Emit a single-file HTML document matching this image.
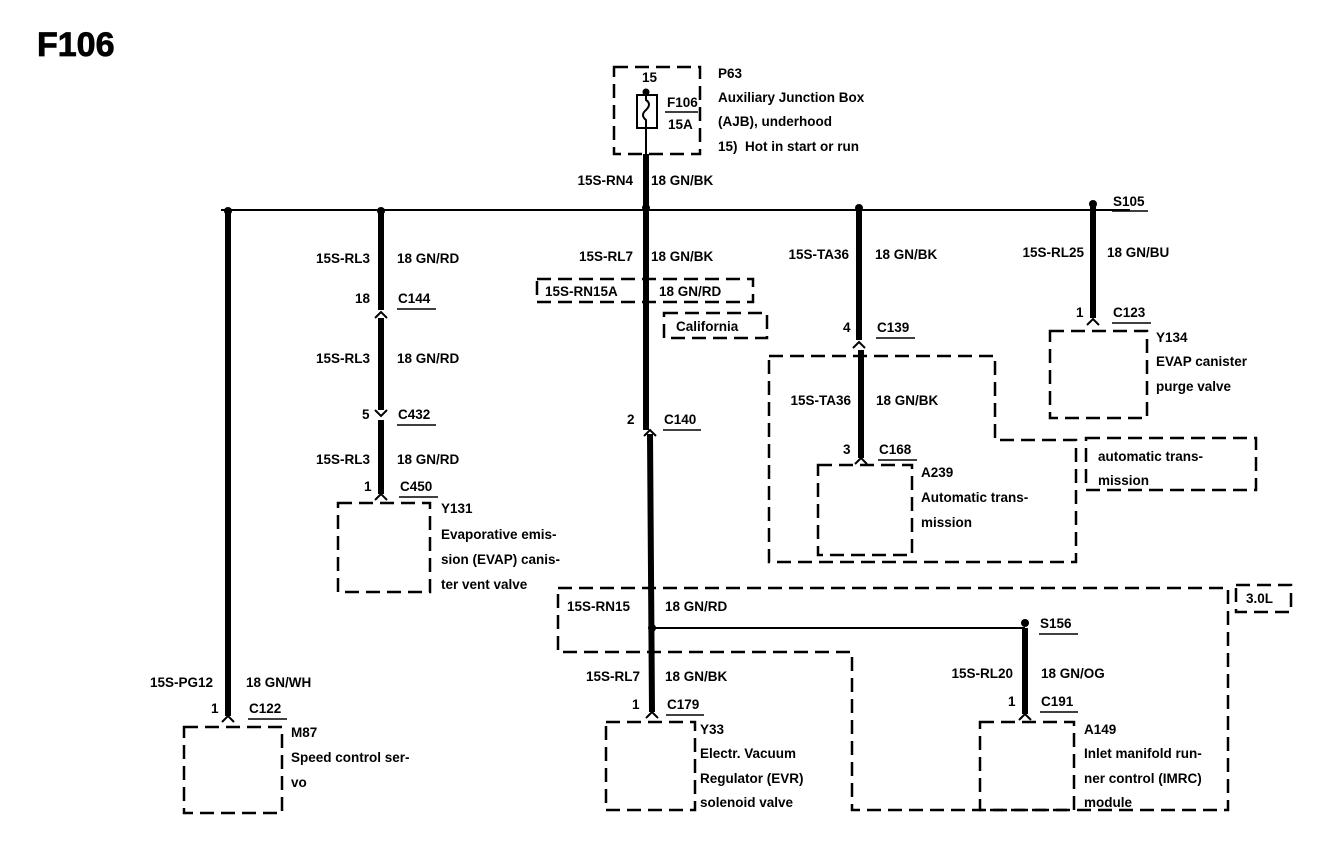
<!DOCTYPE html>
<html><head><meta charset="utf-8"><style>
html,body{margin:0;padding:0;background:#fff}
svg{display:block}
text{font-family:"Liberation Sans",Arial,sans-serif;font-weight:bold;font-size:13.5px;fill:#000}
.r{text-anchor:end}
.d{fill:none;stroke:#000;stroke-width:2.5;stroke-dasharray:14 7}
.w{stroke:#000;stroke-width:6}
.t{stroke:#000;stroke-width:2}
.u{stroke:#000;stroke-width:1.5}
.a{fill:none;stroke:#000;stroke-width:2}
</style></head><body>
<svg width="1344" height="842" viewBox="0 0 1344 842" xmlns="http://www.w3.org/2000/svg">
<text x="37" y="56" style="font-size:34px;stroke:#000;stroke-width:0.8">F106</text>

<!-- fuse box -->
<rect x="614" y="67" width="86" height="87" class="d"/>
<rect x="637" y="95" width="20" height="33" fill="none" stroke="#000" stroke-width="2"/>
<path d="M646 92 v8 q6 4 0 10 q-6 5 0 10 v8" fill="none" stroke="#000" stroke-width="2"/>
<circle cx="646" cy="92" r="3.5"/>
<line x1="646" y1="128" x2="646" y2="155" class="t"/>
<text x="642" y="82">15</text>
<text x="667" y="107">F106</text>
<line x1="665" y1="112" x2="698" y2="112" class="u"/>
<text x="668" y="129">15A</text>
<text x="718" y="78">P63</text>
<text x="718" y="102">Auxiliary Junction Box</text>
<text x="718" y="126">(AJB), underhood</text>
<text x="718" y="151">15)&#160; Hot in start or run</text>
<text x="633" y="185" class="r">15S-RN4</text>
<text x="651" y="185">18 GN/BK</text>

<!-- bus -->
<line x1="221" y1="210" x2="1130" y2="210" class="t"/>
<circle cx="228" cy="211" r="4"/><circle cx="381" cy="211" r="4"/><circle cx="646" cy="208" r="4"/><circle cx="859" cy="208" r="4"/><circle cx="1093" cy="204" r="4"/>
<text x="1113" y="206">S105</text><line x1="1112" y1="211" x2="1148" y2="211" class="u"/>

<!-- main wire -->
<line x1="646" y1="154" x2="646" y2="430" class="w"/>
<line x1="650" y1="434" x2="652" y2="712" class="w"/>
<path d="M644 436 l6 -6 l6 6" class="a"/>
<text x="633" y="261" class="r">15S-RL7</text>
<text x="651" y="261">18 GN/BK</text>
<rect x="537" y="279" width="216" height="23" class="d"/>
<text x="545" y="296">15S-RN15A</text>
<text x="659" y="296">18 GN/RD</text>
<rect x="664" y="313" width="103" height="25" class="d"/>
<text x="676" y="331">California</text>
<text x="627" y="424">2</text>
<text x="664" y="424">C140</text><line x1="663" y1="430" x2="701" y2="430" class="u"/>

<!-- 3.0L region -->
<path d="M558 588 H1228 V810 H852 V652 H558 Z" class="d"/>
<rect x="1236" y="585" width="55" height="27" class="d"/>
<text x="1246" y="603">3.0L</text>
<text x="567" y="611">15S-RN15</text>
<text x="665" y="611">18 GN/RD</text>
<circle cx="652" cy="628" r="4"/>
<line x1="652" y1="628" x2="1025" y2="628" class="t"/>
<circle cx="1025" cy="623" r="4"/>
<text x="1040" y="628">S156</text><line x1="1039" y1="634" x2="1078" y2="634" class="u"/>
<text x="640" y="681" class="r">15S-RL7</text>
<text x="665" y="681">18 GN/BK</text>
<text x="632" y="709">1</text>
<text x="667" y="709">C179</text><line x1="666" y1="715" x2="704" y2="715" class="u"/>
<path d="M646 718 l6 -6 l6 6" class="a"/>
<rect x="606" y="722" width="89" height="88" class="d"/>
<text x="700" y="734">Y33</text>
<text x="700" y="758">Electr. Vacuum</text>
<text x="700" y="783">Regulator (EVR)</text>
<text x="700" y="807">solenoid valve</text>

<line x1="1025" y1="628" x2="1025" y2="714" class="w"/>
<path d="M1019 720 l6 -6 l6 6" class="a"/>
<text x="1013" y="678" class="r">15S-RL20</text>
<text x="1041" y="678">18 GN/OG</text>
<text x="1008" y="706">1</text>
<text x="1041" y="706">C191</text><line x1="1040" y1="712" x2="1078" y2="712" class="u"/>
<rect x="980" y="722" width="94" height="88" class="d"/>
<text x="1084" y="734">A149</text>
<text x="1084" y="758">Inlet manifold run-</text>
<text x="1084" y="783">ner control (IMRC)</text>
<text x="1084" y="807">module</text>

<!-- left wire -->
<line x1="228" y1="211" x2="228" y2="716" class="w"/>
<path d="M222 722 l6 -6 l6 6" class="a"/>
<text x="213" y="687" class="r">15S-PG12</text>
<text x="246" y="687">18 GN/WH</text>
<text x="211" y="713">1</text>
<text x="249" y="713">C122</text><line x1="248" y1="719" x2="287" y2="719" class="u"/>
<rect x="184" y="727" width="98" height="86" class="d"/>
<text x="291" y="737">M87</text>
<text x="291" y="762">Speed control ser-</text>
<text x="291" y="787">vo</text>

<!-- x=381 wire -->
<line x1="381" y1="211" x2="381" y2="310" class="w"/>
<line x1="381" y1="318" x2="381" y2="410" class="w"/>
<line x1="381" y1="420" x2="381" y2="494" class="w"/>
<path d="M375 318 l6 -6 l6 6" class="a"/>
<path d="M375 410 l6 6 l6 -6" class="a"/>
<path d="M375 500 l6 -6 l6 6" class="a"/>
<text x="370" y="263" class="r">15S-RL3</text>
<text x="397" y="263">18 GN/RD</text>
<text x="355" y="303">18</text>
<text x="398" y="303">C144</text><line x1="397" y1="309" x2="436" y2="309" class="u"/>
<text x="370" y="363" class="r">15S-RL3</text>
<text x="397" y="363">18 GN/RD</text>
<text x="362" y="419">5</text>
<text x="398" y="419">C432</text><line x1="397" y1="425" x2="436" y2="425" class="u"/>
<text x="370" y="464" class="r">15S-RL3</text>
<text x="397" y="464">18 GN/RD</text>
<text x="364" y="491">1</text>
<text x="400" y="491">C450</text><line x1="399" y1="497" x2="438" y2="497" class="u"/>
<rect x="338" y="503" width="92" height="89" class="d"/>
<text x="441" y="513">Y131</text>
<text x="441" y="539">Evaporative emis-</text>
<text x="441" y="564">sion (EVAP) canis-</text>
<text x="441" y="589">ter vent valve</text>

<!-- x=859 wire -->
<line x1="859" y1="208" x2="859" y2="340" class="w"/>
<line x1="861" y1="350" x2="861" y2="458" class="w"/>
<path d="M853 348 l6 -6 l6 6" class="a"/>
<path d="M855 464 l6 -6 l6 6" class="a"/>
<text x="849" y="259" class="r">15S-TA36</text>
<text x="875" y="259">18 GN/BK</text>
<text x="843" y="332">4</text>
<text x="877" y="332">C139</text><line x1="876" y1="338" x2="915" y2="338" class="u"/>
<path d="M769 356 H995 V440 H1076 V562 H769 Z" class="d"/>
<text x="851" y="405" class="r">15S-TA36</text>
<text x="876" y="405">18 GN/BK</text>
<text x="843" y="454">3</text>
<text x="879" y="454">C168</text><line x1="878" y1="460" x2="917" y2="460" class="u"/>
<rect x="818" y="465" width="94" height="90" class="d"/>
<text x="921" y="477">A239</text>
<text x="921" y="502">Automatic trans-</text>
<text x="921" y="527">mission</text>
<rect x="1086" y="438" width="170" height="52" class="d"/>
<text x="1098" y="461">automatic trans-</text>
<text x="1098" y="485">mission</text>

<!-- x=1093 wire -->
<line x1="1093" y1="205" x2="1093" y2="318" class="w"/>
<path d="M1087 325 l6 -6 l6 6" class="a"/>
<text x="1084" y="257" class="r">15S-RL25</text>
<text x="1107" y="257">18 GN/BU</text>
<text x="1076" y="317">1</text>
<text x="1113" y="317">C123</text><line x1="1112" y1="323" x2="1151" y2="323" class="u"/>
<rect x="1050" y="331" width="97" height="87" class="d"/>
<text x="1156" y="342">Y134</text>
<text x="1156" y="366">EVAP canister</text>
<text x="1156" y="391">purge valve</text>
</svg>
</body></html>
